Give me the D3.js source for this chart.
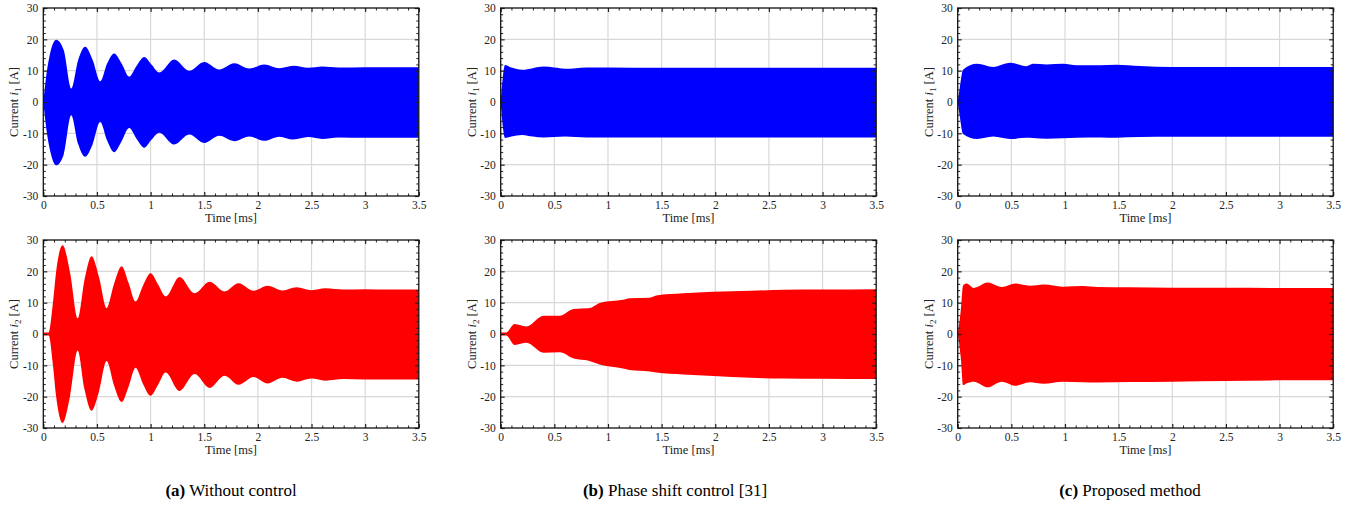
<!DOCTYPE html>
<html>
<head>
<meta charset="utf-8">
<script src="https://cdn.jsdelivr.net/npm/d3@7"></script>
<style>
body { margin: 0; background: #fff; }
svg text { font-family: "Liberation Serif", "Times New Roman", Times, "DejaVu Serif", serif; fill: #222; }
</style>
</head>
<body>
<div id="plot"></div>
<script>
// envelope of each current waveform (time in ms, current in A)
var tA1 = [0, 0.03, 0.06, 0.12, 0.19, 0.26, 0.325, 0.39, 0.46, 0.53, 0.595, 0.66, 0.73, 0.80, 0.87, 0.94, 1.01, 1.08, 1.22, 1.36, 1.50, 1.64, 1.78, 1.92, 2.06, 2.20, 2.33, 2.47, 2.60, 2.75, 3.0, 3.25, 3.5];
var upA1 = [0, 9, 15, 19.9, 16.6, 4.3, 13.4, 17.6, 13.4, 6.6, 12.3, 15.5, 12.3, 8.1, 11.6, 14.4, 11.9, 9.4, 13.6, 10.0, 12.8, 10.4, 12.4, 10.7, 12.0, 10.8, 11.6, 10.9, 11.3, 11.0, 11.1, 11.1, 11.1];
var loA1 = [0, -9, -15, -20.2, -16.8, -4.2, -13.4, -17.5, -13.5, -6.4, -12.3, -16.0, -12.5, -8.3, -11.8, -14.6, -12.0, -9.8, -13.6, -10.4, -13.1, -10.8, -12.5, -11.0, -12.4, -11.1, -12.0, -11.2, -11.8, -11.3, -11.4, -11.4, -11.4];

var tA2 = [0, 0.05, 0.09, 0.12, 0.18, 0.25, 0.32, 0.385, 0.45, 0.52, 0.59, 0.66, 0.73, 0.795, 0.86, 0.93, 1.0, 1.07, 1.14, 1.27, 1.41, 1.55, 1.69, 1.82, 1.96, 2.09, 2.23, 2.36, 2.5, 2.63, 2.8, 3.0, 3.25, 3.5];
var upA2 = [0.5, 0.5, 10, 20, 28.3, 19.5, 5.0, 17.5, 24.8, 18.0, 8.2, 16.0, 21.6, 16.3, 10.4, 15.5, 19.4, 15.8, 12.0, 18.2, 13.0, 16.7, 13.6, 16.2, 13.8, 15.4, 13.9, 14.9, 14.0, 14.6, 14.2, 14.3, 14.2, 14.2];
var loA2 = [-0.5, -0.5, -10, -20, -28.4, -19.8, -5.3, -17.8, -24.5, -18.3, -8.6, -16.5, -21.7, -16.8, -10.8, -16.0, -19.7, -16.2, -12.3, -18.2, -12.8, -17.2, -13.3, -16.2, -13.7, -15.8, -14.0, -15.2, -14.2, -14.9, -14.4, -14.5, -14.5, -14.5];

var tB1 = [0, 0.02, 0.04, 0.1, 0.2, 0.3, 0.4, 0.5, 0.6, 0.7, 0.8, 1.0, 1.5, 2.0, 2.5, 3.0, 3.5];
var upB1 = [0, 8, 11.8, 11.0, 10.3, 10.8, 11.3, 11.0, 10.6, 10.8, 11.0, 11.0, 10.9, 10.9, 10.9, 10.9, 10.9];
var loB1 = [0, -8, -11.5, -11.0, -10.5, -11.0, -11.3, -11.2, -11.0, -11.2, -11.3, -11.3, -11.3, -11.3, -11.3, -11.3, -11.3];

var tB2 = [0, 0.05, 0.13, 0.24, 0.4, 0.55, 0.68, 0.82, 0.93, 1.14, 1.2, 1.39, 1.45, 1.7, 1.98, 2.33, 2.64, 3.0, 3.5];
var upB2 = [0.5, 0.5, 3.2, 2.4, 5.8, 5.8, 8.0, 8.2, 10.0, 10.9, 11.4, 11.6, 12.3, 13.0, 13.5, 13.8, 14.1, 14.2, 14.3];
var loB2 = [-0.5, -0.5, -3.5, -2.8, -6.0, -5.8, -7.8, -8.5, -9.8, -11.0, -11.5, -12.0, -12.3, -12.9, -13.4, -14.0, -14.2, -14.3, -14.4];

var tC1 = [0, 0.02, 0.05, 0.18, 0.33, 0.49, 0.64, 0.7, 0.83, 0.98, 1.11, 1.33, 1.48, 1.7, 2.0, 2.5, 3.0, 3.5];
var upC1 = [0, 4.8, 10.3, 12.2, 11.2, 12.5, 11.4, 12.2, 12.0, 12.2, 11.7, 11.7, 11.9, 11.5, 11.2, 11.2, 11.2, 11.2];
var loC1 = [0, -4.8, -10.2, -11.8, -11.0, -11.8, -11.4, -11.5, -11.7, -11.6, -11.4, -11.3, -11.4, -11.2, -11.1, -11.1, -11.1, -11.1];

var tC2 = [0, 0.03, 0.05, 0.085, 0.15, 0.28, 0.41, 0.54, 0.67, 0.8, 0.98, 1.17, 1.3, 1.6, 2.0, 2.5, 3.0, 3.5];
var upC2 = [0, 8, 15.5, 16.1, 14.7, 16.4, 15.0, 16.1, 15.4, 15.8, 15.1, 15.3, 15.0, 14.9, 14.8, 14.8, 14.7, 14.7];
var loC2 = [0, -8, -16.3, -15.7, -15.2, -17.0, -15.2, -16.5, -15.4, -15.9, -15.2, -15.4, -15.5, -15.3, -15.2, -15.0, -14.8, -14.8];

var xTicks = [0, 0.5, 1, 1.5, 2, 2.5, 3, 3.5];
var yTicks = [-30, -20, -10, 0, 10, 20, 30];
var captions = [["(a)", " Without control"], ["(b)", " Phase shift control [31]"], ["(c)", " Proposed method"]];

//layout
var W = 1363, H = 506;
var colX = [43.3, 500.7, 957.7], rowY = [8, 240];
var pw = 375.5, ph = 188;
var capX = [231, 675, 1130];
var serif = '"Liberation Serif", "Times New Roman", Times, "DejaVu Serif", serif';

var svg = d3.select('#plot').append('svg')
    .attr('width', W).attr('height', H);

var panels = [
    {col:0, row:0, t:tA1, up:upA1, lo:loA1, sub:'1', color:'#0000ff'},
    {col:0, row:1, t:tA2, up:upA2, lo:loA2, sub:'2', color:'#ff0000'},
    {col:1, row:0, t:tB1, up:upB1, lo:loB1, sub:'1', color:'#0000ff'},
    {col:1, row:1, t:tB2, up:upB2, lo:loB2, sub:'2', color:'#ff0000'},
    {col:2, row:0, t:tC1, up:upC1, lo:loC1, sub:'1', color:'#0000ff'},
    {col:2, row:1, t:tC2, up:upC2, lo:loC2, sub:'2', color:'#ff0000'}
];

var x = d3.scaleLinear().domain([0, 3.5]).range([0, pw]);
var y = d3.scaleLinear().domain([-30, 30]).range([ph, 0]);
var xMinor = d3.range(0, 36).map(function(i){ return i/10; }).filter(function(v){ return xTicks.indexOf(v) < 0; });
var yMinor = d3.range(-30, 31, 2).filter(function(v){ return yTicks.indexOf(v) < 0; });

panels.forEach(function(p, i) {
    var g = svg.append('g')
        .attr('transform', 'translate(' + colX[p.col] + ',' + rowY[p.row] + ')');

    g.append('clipPath').attr('id', 'clip' + i)
        .append('rect').attr('width', pw).attr('height', ph);

    // grid
    g.selectAll('.gx').data(xTicks.slice(1, -1)).enter().append('line')
        .attr('x1', x).attr('x2', x).attr('y1', 0).attr('y2', ph)
        .style('stroke', '#d8d8d8').style('stroke-width', 1.2);
    g.selectAll('.gy').data(yTicks.slice(1, -1)).enter().append('line')
        .attr('y1', y).attr('y2', y).attr('x1', 0).attr('x2', pw)
        .style('stroke', '#d8d8d8').style('stroke-width', 1.2);

    var pts = p.t.map(function(t, k){ return {t:t, up:p.up[k], lo:p.lo[k]}; });
    var area = d3.area()
        .x(function(d){ return x(d.t); })
        .y0(function(d){ return y(d.lo); })
        .y1(function(d){ return y(d.up); })
        .curve(d3.curveMonotoneX);
    g.append('path').datum(pts)
        .attr('d', area)
        .attr('clip-path', 'url(#clip' + i + ')')
        .style('fill', p.color);

    var fmt = function(d){ return String(d); };
    var axes = [
        {a:d3.axisBottom(x), tr:'translate(0,' + ph + ')', lab:true, maj:xTicks, min:xMinor},
        {a:d3.axisTop(x), tr:'translate(0,0)', lab:false, maj:xTicks, min:xMinor},
        {a:d3.axisLeft(y), tr:'translate(0,0)', lab:true, maj:yTicks, min:yMinor},
        {a:d3.axisRight(y), tr:'translate(' + pw + ',0)', lab:false, maj:yTicks, min:yMinor}
    ];
    axes.forEach(function(ax) {
        var maj = g.append('g').attr('transform', ax.tr)
            .call(ax.a.tickValues(ax.maj).tickSize(-4).tickSizeOuter(0).tickPadding(5)
                .tickFormat(ax.lab ? fmt : function(){ return ''; }));
        maj.attr('font-family', null);
        maj.select('.domain').remove();
        maj.selectAll('line').style('stroke', '#222').style('stroke-width', 1.2);
        maj.selectAll('text').style('font-size', '11.5px').style('fill', '#222')
            .style('font-family', serif);
        var mn = g.append('g').attr('transform', ax.tr)
            .call(ax.a.tickValues(ax.min).tickSize(-2.5).tickFormat(function(){ return ''; }));
        mn.select('.domain').remove();
        mn.selectAll('line').style('stroke', '#222').style('stroke-width', 1);
    });

    g.append('rect').attr('width', pw).attr('height', ph)
        .style('fill', 'none').style('stroke', '#111').style('stroke-width', 1.3);

    g.append('text')
        .attr('x', pw / 2).attr('y', ph + 26)
        .attr('text-anchor', 'middle')
        .style('font-family', serif)
        .style('font-size', '12.5px')
        .text('Time [ms]');

    var yl = g.append('text')
        .attr('transform', 'translate(-25,' + (ph / 2) + ') rotate(-90)')
        .attr('text-anchor', 'middle')
        .style('font-family', serif)
        .style('font-size', '12.5px');
    yl.append('tspan').text('Current ');
    yl.append('tspan').style('font-style', 'italic').text('i');
    yl.append('tspan').attr('dy', 3).style('font-size', '9px').text(p.sub);
    yl.append('tspan').attr('dy', -3).text(' [A]');
});

captions.forEach(function(c, k) {
    var t = svg.append('text')
        .attr('x', capX[k]).attr('y', 496)
        .attr('text-anchor', 'middle')
        .style('font-family', serif)
        .style('font-size', '17px').style('fill', '#000');
    t.append('tspan').style('font-weight', 'bold').text(c[0]);
    t.append('tspan').text(c[1]);
});
</script>
</body>
</html>
